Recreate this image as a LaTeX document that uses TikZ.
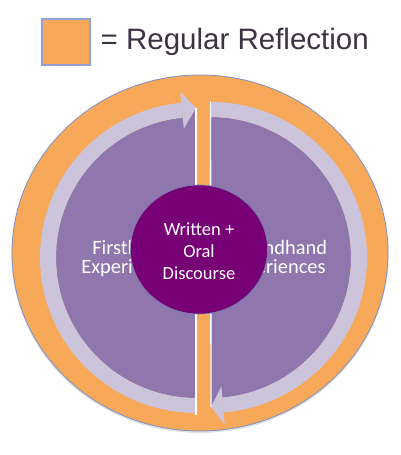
\documentclass[tikz,border=0pt]{standalone}
\usepackage{fontspec}
\setmainfont{Liberation Sans}
\newfontfamily\calib{Carlito}
\usetikzlibrary{calc,shapes.geometric}
\definecolor{orng}{RGB}{247,168,88}
\definecolor{ringline}{RGB}{125,147,200}
\definecolor{lav}{RGB}{204,196,218}
\definecolor{purp}{RGB}{143,118,173}
\definecolor{darkp}{RGB}{119,0,119}
\definecolor{cline}{RGB}{120,130,180}
\definecolor{sqline}{RGB}{150,160,215}
\definecolor{legtxt}{RGB}{60,50,66}
\tikzset{
  sidetxt/.style={anchor=base, inner sep=0, text=white, font=\calib\fontsize{20.4}{20}\selectfont},
  centxt/.style={anchor=base, inner sep=0, text=white, font=\calib\fontsize{18.5}{20}\selectfont},
  sepline/.style={white, line width=1.3}
}
\begin{document}
\begin{tikzpicture}[x=1pt,y=1pt]
\useasboundingbox (0,0) rectangle (400,455);
\coordinate (O) at (200,202);
\coordinate (CL) at (196.5,197.5);
\coordinate (CR) at (210.5,197.5);
\coordinate (tipL) at (196,347);
\coordinate (tipR) at (211,48);
% outer orange ring
\fill[black!12] (200,200.6) ellipse [x radius=188.6, y radius=178.6];
\fill[orng, draw=ringline, line width=0.8] (O) ellipse [x radius=188, y radius=178];
% purple halves
\fill[purp] (196.5,57) -- (tipL) -- ($(CL)+(95.6:140.5)$) arc[start angle=95.6, end angle=270, radius=140.5] -- cycle;
\fill[purp] (210.5,338) arc[start angle=90, end angle=-85.15, radius=140.5] -- (tipR) -- cycle;
% left band with arrow
\fill[lav] ($(CL)+(95.6:156.5 and 155.5)$) arc[start angle=95.6, end angle=270, x radius=156.5, y radius=155.5]
  -- ($(CL)+(270:140.5)$) arc[start angle=270, end angle=95.6, radius=140.5] -- cycle;
\fill[lav] ($(CL)+(95.6:166.5)$) -- (tipL) -- ($(CL)+(95.6:129.5)$) -- cycle;
% right band with arrow
\fill[lav] ($(CR)+(90:156.5 and 155.5)$) arc[start angle=90, end angle=-85.15, x radius=156.5, y radius=155.5]
  -- ($(CR)+(-85.15:140.5)$) arc[start angle=-85.15, end angle=90, radius=140.5] -- cycle;
\fill[lav] ($(CR)+(-85.15:167.5)$) -- (tipR) -- ($(CR)+(-85.15:129.2)$) -- cycle;
% white separators
\coordinate (wLb) at (196,40);
\coordinate (wRt) at (210.5,353.5);
\draw[sepline] (tipL) -- (wLb);
\draw[sepline] (wRt) -- (tipR);
% side texts
\node[sidetxt] (f1) at (131,200) {Firsthand};
\node[sidetxt] (f2) at (131,181.7) {Experiences};
\node[sidetxt] (s1) at (276,200) {Secondhand};
\node[sidetxt] (s2) at (276,181.7) {Experiences};
% centre disc
\node[ellipse, fill=darkp, draw=cline, line width=0.6, minimum width=137, minimum height=129, inner sep=0] (disc) at (199,205.5) {};
\node[centxt] (c1) at (199,219.3) {Written +};
\node[centxt] (c2) at (199,197.8) {Oral};
\node[centxt] (c3) at (199,175) {Discourse};
% legend
\node[fill=orng, draw=sqline, line width=1.2, minimum width=48, minimum height=46, inner sep=0] (leg) at (66,413) {};
\node[anchor=base west, inner sep=0, text=legtxt, font=\fontsize{29.5}{30}\selectfont] (legt) at (100.5,405) {= Regular Reflection};
\end{tikzpicture}
\end{document}
